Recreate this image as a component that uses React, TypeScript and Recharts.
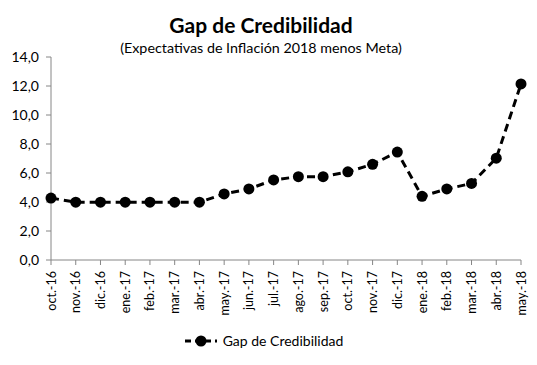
import { LineChart, Line, XAxis, YAxis, Legend } from "recharts";

const months = [
  "oct.-16", "nov.-16", "dic.-16", "ene.-17", "feb.-17", "mar.-17", "abr.-17",
  "may.-17", "jun.-17", "jul.-17", "ago.-17", "sep.-17", "oct.-17", "nov.-17",
  "dic.-17", "ene.-18", "feb.-18", "mar.-18", "abr.-18", "may.-18",
];
const gap = [
  4.27, 3.99, 3.99, 3.99, 3.99, 3.99, 3.99, 4.56, 4.9, 5.52, 5.75, 5.75,
  6.08, 6.6, 7.44, 4.39, 4.9, 5.28, 7.02, 12.14,
];
const yTicks = [0, 2, 4, 6, 8, 10, 12, 14];

const data = months.map((m, i) => ({ name: m, gap: gap[i] }));

const FONT = "Lato, 'Open Sans', sans-serif";
const AXIS = "#868686";

function XTick(props: any) {
  const { x, y, payload } = props;
  return (
    <text
      transform={`translate(${x},${y + 4}) rotate(-90)`}
      textAnchor="end"
      dominantBaseline="central"
      fontSize={12.5}
      fill="#000"
      fontFamily={FONT}
    >
      {payload.value}
    </text>
  );
}

function LegendBox() {
  return (
    <div style={{ display: "flex", justifyContent: "center", alignItems: "center", fontFamily: FONT, fontSize: 14, color: "#000", marginLeft: 6 }}>
      <svg width={34} height={12} style={{ marginRight: 5 }}>
        <line x1={1} y1={6} x2={33} y2={6} stroke="#000" strokeWidth={3} strokeDasharray="6 4" />
        <circle cx={17} cy={6} r={5.5} fill="#000" />
      </svg>
      <span>Gap de Credibilidad</span>
    </div>
  );
}

export default function App() {
  return (
    <div style={{ position: "absolute", left: 0, top: 0, width: 537, height: 365, background: "#fff", fontFamily: FONT }}>
      <div style={{ position: "absolute", left: 0, width: 522, top: 12, textAlign: "center", fontSize: 21, fontWeight: 700 }}>
        Gap de Credibilidad
      </div>
      <div style={{ position: "absolute", left: 0, width: 522, top: 39, textAlign: "center", fontSize: 14.3 }}>
        (Expectativas de Inflación 2018 menos Meta)
      </div>
      <LineChart width={537} height={365} data={data} margin={{ top: 57, right: 16, bottom: 8, left: 0 }}>
        <XAxis
          dataKey="name"
          interval={0}
          height={80}
          tick={<XTick />}
          tickLine={{ stroke: AXIS }}
          tickSize={5}
          axisLine={{ stroke: AXIS }}
        />
        <YAxis
          domain={[0, 14]}
          ticks={yTicks}
          width={51}
          tickSize={5}
          tickFormatter={(v: number) => v.toFixed(1).replace(".", ",")}
          tick={{ fill: "#000", fontSize: 14, fontFamily: FONT, dx: -5 }}
          tickLine={{ stroke: AXIS }}
          axisLine={{ stroke: AXIS }}
        />
        <Legend verticalAlign="bottom" content={() => <LegendBox />} wrapperStyle={{ bottom: 16 }} />
        <Line
          dataKey="gap"
          name="Gap de Credibilidad"
          stroke="#000"
          strokeWidth={3}
          strokeDasharray="8 5"
          dot={{ r: 5.5, fill: "#000", stroke: "#000", strokeWidth: 0 }}
          isAnimationActive={false}
        />
      </LineChart>
    </div>
  );
}
